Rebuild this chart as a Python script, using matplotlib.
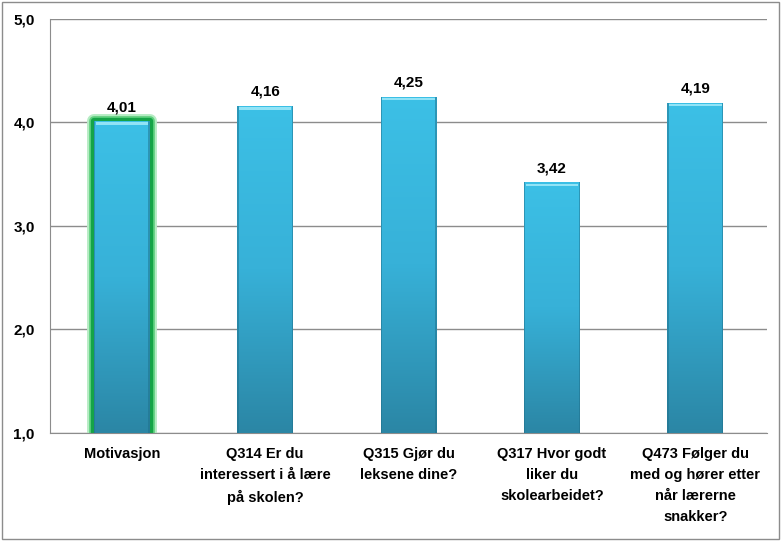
import numpy as np
import matplotlib
matplotlib.use("Agg")
import matplotlib.pyplot as plt
from matplotlib.patches import Rectangle
from matplotlib.colors import LinearSegmentedColormap

categories = ["Motivasjon",
              "Q314 Er du\ninteressert i å lære\npå skolen?",
              "Q315 Gjør du\nleksene dine?",
              "Q317 Hvor godt\nliker du\nskolearbeidet?",
              "Q473 Følger du\nmed og hører etter\nnår lærerne\nsnakker?"]
values = [4.01, 4.16, 4.25, 3.42, 4.19]
value_labels = ["4,01", "4,16", "4,25", "3,42", "4,19"]
y_ticks = [1.0, 2.0, 3.0, 4.0, 5.0]
y_ticklabels = ["1,0", "2,0", "3,0", "4,0", "5,0"]

plt.rcParams['font.family'] = ['Liberation Sans', 'DejaVu Sans']

fig = plt.figure(figsize=(7.82, 5.41), dpi=100)
ax = fig.add_axes([0.064, 0.1996, 0.917, 0.7654])

# outer frame
fig.patches.append(Rectangle((0.003, 0.004), 0.993, 0.992, transform=fig.transFigure,
                             fill=False, edgecolor='#8c8c8c', lw=1.0))

ax.set_yticks(y_ticks)
ax.set_yticklabels(y_ticklabels, fontsize=11, fontweight='bold')
ax.yaxis.grid(True, color='#8c8c8c', lw=1.0)
ax.set_axisbelow(True)
for s in ['top', 'right']:
    ax.spines[s].set_visible(False)
ax.spines['left'].set_color('#8c8c8c')
ax.spines['bottom'].set_color('#8c8c8c')
ax.tick_params(axis='y', length=0, pad=11)
ax.tick_params(axis='x', length=0, pad=10)
ax.set_xticks(range(len(categories)))
ax.set_xticklabels(categories, fontsize=10.5, fontweight='bold', linespacing=1.65, va='top')

cmap = LinearSegmentedColormap.from_list('bar', ['#2b86a5', '#37b1d8', '#3cc0e6'])
grad = np.linspace(0, 1, 256).reshape(-1, 1)
width = 0.39

for i, v in enumerate(values):
    x0 = i - width / 2
    if i == 0:
        # green glow around the first bar
        ax.add_patch(Rectangle((x0, 1.0), width, v - 1.0, facecolor='none',
                               edgecolor='#b5ecc3', lw=10, zorder=2, joinstyle='round'))
        ax.add_patch(Rectangle((x0, 1.0), width, v - 1.0, facecolor='none',
                               edgecolor='#5fd07f', lw=7, zorder=2.05, joinstyle='round'))
        ax.add_patch(Rectangle((x0, 1.0), width, v - 1.0, facecolor='none',
                               edgecolor='#15a447', lw=4.5, zorder=2.1, joinstyle='round'))
    rect = Rectangle((x0, 1.0), width, v - 1.0, facecolor='#38b4da', edgecolor='none', zorder=3)
    ax.add_patch(rect)
    im = ax.imshow(grad, cmap=cmap, origin='lower', aspect='auto',
                   extent=(x0, x0 + width, 1.0, v), zorder=3.1)
    im.set_clip_path(rect)
    # bevel highlight on top and darker sides
    ax.add_patch(Rectangle((x0 + 0.012, v - 0.035), width - 0.024, 0.025,
                           facecolor='#9be8f9', edgecolor='none', zorder=3.2, alpha=0.9))
    ax.add_patch(Rectangle((x0, 1.0), 0.01, v - 1.0, facecolor='#1f6f8a',
                           edgecolor='none', zorder=3.2, alpha=0.5))
    ax.add_patch(Rectangle((x0 + width - 0.01, 1.0), 0.01, v - 1.0, facecolor='#1f6f8a',
                           edgecolor='none', zorder=3.2, alpha=0.5))
    ax.text(i, v + 0.07, value_labels[i], ha='center', va='bottom',
            fontsize=11, fontweight='bold', zorder=4)

ax.set_xlim(-0.5, len(values) - 0.5)
ax.set_ylim(1.0, 5.0)

fig.savefig("out.png", dpi=100)
